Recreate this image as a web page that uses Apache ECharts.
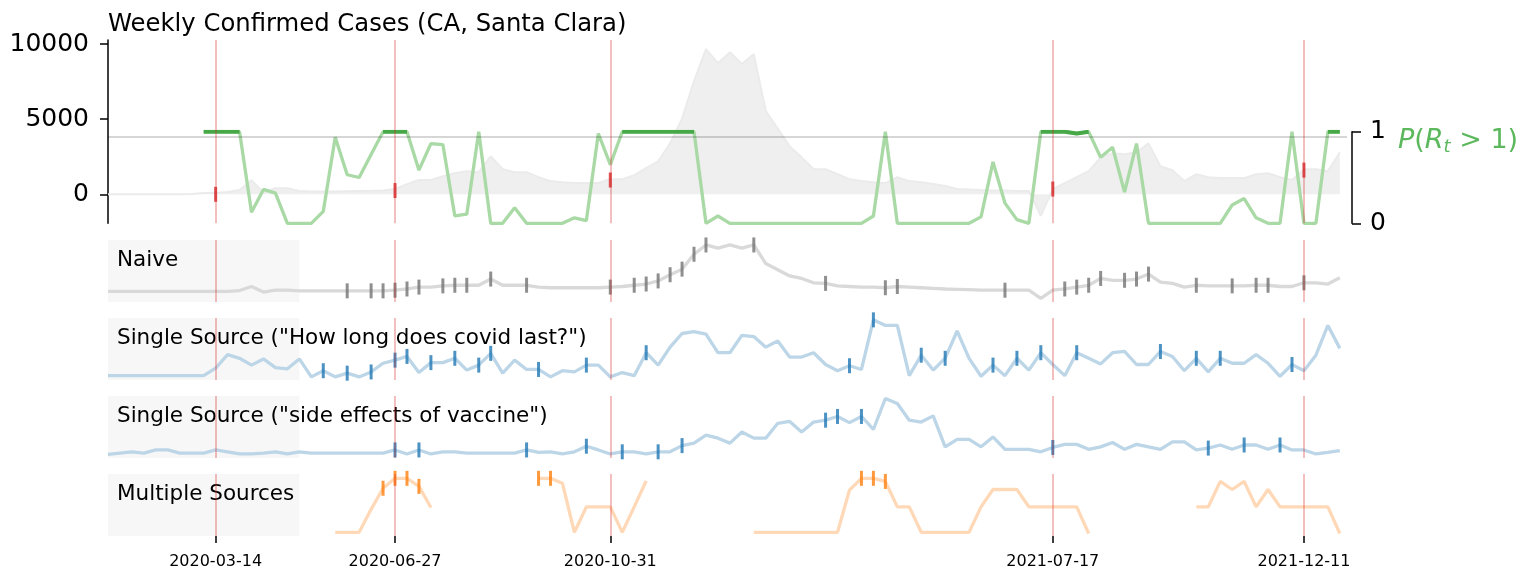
<!DOCTYPE html>
<html>
<head>
<meta charset="utf-8">
<script src="https://cdn.jsdelivr.net/npm/echarts@6/dist/echarts.min.js"></script>
<style>
html, body { margin: 0; padding: 0; background: #fff; }
#chart { width: 1529px; height: 571px; }
</style>
</head>
<body>
<div id="chart"></div>
<script>
// weekly dates 2020-01-11 .. 2022-01-01 (104 weeks)
const weeks = []
for (let d = Date.UTC(2020, 0, 11), k = 0; k < 104; k++, d += 7 * 864e5) {
    weeks.push(new Date(d).toISOString().slice(0, 10))
}
// weeks that get a tick label / red line
const tickIdx = [9, 24, 42, 79, 100]
// case level at those weeks (red marks)
const alertCases = [0, 250, 950, 350, 1610]
const caseTicks = [0, 5000, 10000]

const cases = [
    0, 0, 0, 0, 0, 0, 10, 20, 80, 90,
    150, 280, 940, 100, 400, 400, 220, 190, 190, 190,
    210, 220, 230, 250, 350, 680, 950, 950, 1200, 1400,
    1540, 1470, 2530, 1670, 1470, 1470, 1140, 880, 810, 750,
    750, 750, 1010, 1010, 1270, 1740, 2200, 3390, 5040, 7540,
    9660, 8730, 9460, 8670, 9330, 5560, 4370, 3190, 2460, 1670,
    1670, 1340, 1010, 880, 810, 750, 1140, 880, 810, 680,
    550, 350, 320, 280, 250, 250, 220, 220, -1430, 350,
    750, 1140, 1540, 2460, 2730, 2660, 2800, 3390, 1870, 1600,
    880, 1340, 1140, 1080, 1080, 1080, 1340, 1400, 1140, 950,
    1670, 1670, 1540, 2800
]

// P(R_t > 1)
const pRt = [
    null, null, null, null, null, null, null, null, 1, 1,
    1, 1, 0.12, 0.37, 0.33, 0, 0, 0, 0.13, 0.94,
    0.53, 0.5, 0.75, 1, 1, 1, 0.58, 0.87, 0.86, 0.08,
    0.1, 1, 0, 0, 0.17, 0, 0, 0, 0, 0.06,
    0.03, 0.98, 0.64, 1, 1, 1, 1, 1, 1, 1,
    0, 0.08, 0, 0, 0, 0, 0, 0, 0, 0,
    0, 0, 0, 0, 0.08, 1, 0, 0, 0, 0,
    0, 0, 0, 0.07, 0.67, 0.22, 0.04, 0, 1, 1,
    1, 0.98, 1, 0.72, 0.83, 0.34, 0.87, 0, 0, 0,
    0, 0, 0, 0, 0.2, 0.27, 0.06, 0, 0, 1,
    0, 0, 1, 1
]
const threshold = 0.95

const naive = [
    0.17, 0.17, 0.17, 0.17, 0.17, 0.17, 0.17, 0.17, 0.17, 0.17,
    0.17, 0.185, 0.25, 0.16, 0.19, 0.19, 0.18, 0.18, 0.18, 0.18,
    0.18, 0.18, 0.18, 0.18, 0.19, 0.21, 0.24, 0.24, 0.26, 0.27,
    0.27, 0.27, 0.37, 0.27, 0.27, 0.27, 0.24, 0.23, 0.23, 0.23,
    0.23, 0.23, 0.24, 0.25, 0.27, 0.29, 0.34, 0.44, 0.53, 0.77,
    0.92, 0.87, 0.92, 0.87, 0.92, 0.62, 0.52, 0.42, 0.38, 0.31,
    0.30, 0.26, 0.25, 0.24, 0.24, 0.23, 0.25, 0.24, 0.23, 0.22,
    0.21, 0.205, 0.2, 0.19, 0.19, 0.19, 0.19, 0.19, 0.06, 0.19,
    0.21, 0.24, 0.27, 0.38, 0.35, 0.35, 0.37, 0.45, 0.32, 0.30,
    0.24, 0.27, 0.26, 0.26, 0.26, 0.26, 0.27, 0.27, 0.25, 0.25,
    0.31, 0.31, 0.29, 0.39
]
const naiveFlags = [20, 22, 23, 24, 25, 26, 28, 29, 30, 32, 35, 42, 44, 45, 46, 47, 48, 49, 50, 54,
    60, 65, 66, 75, 80, 81, 82, 83, 85, 86, 87, 91, 94, 96, 97, 100]

const howLong = [
    0.07, 0.07, 0.07, 0.07, 0.07, 0.07, 0.07, 0.07, 0.07, 0.19,
    0.41, 0.35, 0.24, 0.34, 0.2, 0.18, 0.34, 0.05, 0.15, 0.05,
    0.11, 0.05, 0.13, 0.27, 0.32, 0.38, 0.12, 0.28, 0.28, 0.35,
    0.16, 0.24, 0.43, 0.11, 0.32, 0.17, 0.17, 0.05, 0.15, 0.13,
    0.24, 0.24, 0.05, 0.12, 0.07, 0.44, 0.24, 0.53, 0.75, 0.78,
    0.74, 0.44, 0.44, 0.72, 0.70, 0.53, 0.63, 0.37, 0.37, 0.44,
    0.25, 0.15, 0.23, 0.17, 0.97, 0.88, 0.88, 0.07, 0.40, 0.16,
    0.35, 0.79, 0.35, 0.06, 0.24, 0.07, 0.35, 0.16, 0.44, 0.25,
    0.07, 0.44, 0.35, 0.26, 0.44, 0.46, 0.25, 0.25, 0.46, 0.38,
    0.15, 0.35, 0.13, 0.35, 0.27, 0.27, 0.41, 0.27, 0.06, 0.25,
    0.15, 0.40, 0.88, 0.51
]
const howLongFlags = [18, 20, 22, 24, 25, 27, 29, 31, 32, 36, 40, 45, 62, 64, 68, 70, 74, 76, 78, 81, 88, 91, 93, 99]

const sideEffects = [
    0.06, 0.08, 0.10, 0.08, 0.13, 0.13, 0.08, 0.08, 0.08, 0.13,
    0.10, 0.065, 0.065, 0.08, 0.10, 0.065, 0.10, 0.08, 0.08, 0.08,
    0.08, 0.08, 0.08, 0.08, 0.13, 0.065, 0.13, 0.065, 0.10, 0.10,
    0.08, 0.08, 0.08, 0.08, 0.08, 0.13, 0.09, 0.10, 0.065, 0.10,
    0.19, 0.13, 0.065, 0.10, 0.10, 0.065, 0.10, 0.10, 0.20, 0.24,
    0.37, 0.32, 0.24, 0.42, 0.32, 0.32, 0.56, 0.59, 0.42, 0.58,
    0.61, 0.67, 0.57, 0.67, 0.46, 0.96, 0.88, 0.61, 0.58, 0.68,
    0.18, 0.30, 0.30, 0.18, 0.34, 0.14, 0.14, 0.14, 0.10, 0.17,
    0.22, 0.22, 0.14, 0.18, 0.25, 0.14, 0.22, 0.18, 0.14, 0.26,
    0.26, 0.13, 0.16, 0.21, 0.14, 0.21, 0.21, 0.14, 0.21, 0.13,
    0.13, 0.065, 0.09, 0.12
]
const sideEffectsFlags = [24, 26, 35, 40, 43, 46, 48, 60, 61, 63, 79, 92, 95, 98]

const multi = [
    null, null, null, null, null, null, null, null, null, null,
    null, null, null, null, null, null, null, null, null, 0.06,
    0.06, 0.06, 0.43, 0.77, 0.93, 0.93, 0.80, 0.46, null, null,
    null, null, null, null, null, null, 0.93, 0.93, 0.85, 0.06,
    0.47, 0.47, 0.47, 0.06, 0.47, 0.89, null, null, null, null,
    null, null, null, null, 0.06, 0.06, 0.06, 0.06, 0.06, 0.06,
    0.06, 0.06, 0.74, 0.93, 0.93, 0.88, 0.47, 0.47, 0.06, 0.06,
    0.06, 0.06, 0.06, 0.47, 0.75, 0.75, 0.75, 0.47, 0.47, 0.47,
    0.47, 0.47, 0.04, null, null, null, null, null, null, null,
    null, 0.47, 0.47, 0.88, 0.75, 0.88, 0.47, 0.75, 0.47, 0.47,
    0.47, 0.47, 0.47, 0.04
]
const multiFlags = [23, 24, 25, 26, 36, 37, 63, 64, 65]

const panels = [
    { name: 'Naive', data: naive, flags: naiveFlags, line: '#d9d9d9', mark: '#737373' },
    { name: 'Single Source ("How long does covid last?")', data: howLong, flags: howLongFlags, line: '#bcd6e8', mark: '#1f77b4' },
    { name: 'Single Source ("side effects of vaccine")', data: sideEffects, flags: sideEffectsFlags, line: '#bcd6e8', mark: '#1f77b4' },
    { name: 'Multiple Sources', data: multi, flags: multiFlags, line: '#ffd9b7', mark: '#ff7f0e' }
]

const FONT = 'DejaVu Sans'
const XMAX = 103.6
const pairs = arr => arr.map((v, i) => [i, v === null ? '-' : v])

// P >= 0.97 for two or more weeks in a row -> darker green
const pDark = pRt.map((v, i) => {
    const hi = x => x !== null && x !== undefined && x >= 0.97
    return hi(v) && (hi(pRt[i - 1]) || hi(pRt[i + 1])) ? v : null
})

const chart = echarts.init(document.getElementById('chart'))

let grid = [
    { left: 108, right: 182, top: 40, height: 183.3 },
    { left: 108, right: 182, top: 131.7, height: 91.6 }
]
let xAxis = []
let yAxis = [
    {
        type: 'value', gridIndex: 0, min: -1930, max: 10270,
        axisLine: { show: true, onZero: false, lineStyle: { color: '#000', width: 1.5 } },
        axisTick: { show: true, customValues: caseTicks, length: 8, lineStyle: { color: '#000', width: 1.5 } },
        axisLabel: {
            customValues: caseTicks, formatter: v => String(v),
            fontFamily: FONT, fontSize: 25, color: '#000', margin: 19
        },
        splitLine: { show: false }
    },
    {
        type: 'value', gridIndex: 1, position: 'right', offset: 5, min: 0, max: 1, interval: 1,
        axisLine: { show: true, onZero: false, lineStyle: { color: '#000', width: 1.5 } },
        axisTick: { show: true, length: 9, lineStyle: { color: '#000', width: 1.5 } },
        axisLabel: { fontFamily: FONT, fontSize: 25, color: '#000', margin: 18 },
        splitLine: { show: false }
    }
]
panels.forEach((p, k) => {
    grid.push({ left: 108, right: 182, top: 240 + 78 * k, height: 62 })
    yAxis.push({ type: 'value', gridIndex: k + 2, min: 0, max: 1, show: false })
})
for (let g = 0; g < 6; g++) {
    const last = g === 5
    xAxis.push({
        type: 'value', gridIndex: g, min: 0, max: XMAX, show: true,
        axisLine: { show: false },
        splitLine: { show: false },
        axisTick: last ? { show: true, customValues: tickIdx, length: 7, lineStyle: { color: '#000', width: 1.5 } } : { show: false },
        axisLabel: last ? {
            show: true, customValues: tickIdx, formatter: v => weeks[v],
            fontFamily: FONT, fontSize: 16, color: '#000', margin: 18
        } : { show: false }
    })
}

let series = [
    {
        type: 'line', xAxisIndex: 0, yAxisIndex: 0, data: pairs(cases), symbol: 'none', z: 1,
        lineStyle: { color: '#ebebeb', width: 2 },
        areaStyle: { color: '#efefef', opacity: 1, origin: 'auto' }
    },
    {
        type: 'line', xAxisIndex: 1, yAxisIndex: 1, data: pairs(pRt), symbol: 'none', z: 3,
        lineStyle: { color: '#a9d9a5', width: 3.3 },
        markLine: {
            silent: true, symbol: ['none', 'none'], label: { show: false },
            lineStyle: { color: 'rgba(0,0,0,0.16)', width: 2, type: 'solid' },
            data: [{ yAxis: threshold }]
        }
    },
    {
        type: 'line', xAxisIndex: 1, yAxisIndex: 1, data: pairs(pDark), symbol: 'none', z: 4,
        lineStyle: { color: '#47a847', width: 4 }
    },
    {
        type: 'scatter', xAxisIndex: 0, yAxisIndex: 0, z: 5,
        data: tickIdx.map((w, k) => [w, alertCases[k]]),
        symbol: 'rect', symbolSize: [3, 15], itemStyle: { color: '#d62728' }
    }
]

panels.forEach((p, k) => {
    const g = k + 2
    series.push({
        type: 'line', xAxisIndex: g, yAxisIndex: g, data: [], z: 0,
        markArea: {
            silent: true,
            itemStyle: { color: '#f7f7f7' },
            label: {
                show: true, position: 'insideTopLeft', distance: 8, offset: [1, 1],
                fontFamily: FONT, fontSize: 21.5, color: '#000'
            },
            data: [[{ name: p.name, xAxis: 0 }, { xAxis: 16 }]]
        }
    })
    series.push({
        type: 'line', xAxisIndex: g, yAxisIndex: g, data: pairs(p.data), symbol: 'none', z: 2,
        lineStyle: { color: p.line, width: 3.3 }
    })
    series.push({
        type: 'scatter', xAxisIndex: g, yAxisIndex: g, z: 3,
        data: p.flags.map(w => [w, p.data[w]]),
        symbol: 'rect', symbolSize: [3, 15], itemStyle: { color: p.mark }
    })
})

// red vertical lines on every panel
;[0, 2, 3, 4, 5].forEach(g => {
    series.push({
        type: 'line', xAxisIndex: g, yAxisIndex: g, data: [], z: 10,
        markLine: {
            silent: true, symbol: ['none', 'none'], label: { show: false },
            lineStyle: { color: 'rgba(214,39,40,0.3)', width: 2, type: 'solid' },
            data: tickIdx.map(w => ({ xAxis: w }))
        }
    })
})

chart.setOption({
    animation: false,
    backgroundColor: '#fff',
    title: {
        text: 'Weekly Confirmed Cases (CA, Santa Clara)',
        left: 108, top: 13, padding: 0,
        textStyle: { fontFamily: FONT, fontSize: 24.3, fontWeight: 'normal', color: '#000' }
    },
    grid: grid,
    xAxis: xAxis,
    yAxis: yAxis,
    series: series,
    graphic: [{
        type: 'text', left: 1398, top: 127,
        style: {
            text: '{i|P}{n|(}{i|R}{s|t}{n| > 1)}',
            fill: '#5cb85c',
            rich: {
                i: { fontFamily: FONT, fontStyle: 'italic', fontSize: 27, lineHeight: 32, fill: '#5cb85c' },
                n: { fontFamily: FONT, fontSize: 27, lineHeight: 32, fill: '#5cb85c' },
                s: { fontFamily: FONT, fontStyle: 'italic', fontSize: 18, lineHeight: 14, verticalAlign: 'bottom', fill: '#5cb85c' }
            }
        }
    }]
})
</script>
</body>
</html>
